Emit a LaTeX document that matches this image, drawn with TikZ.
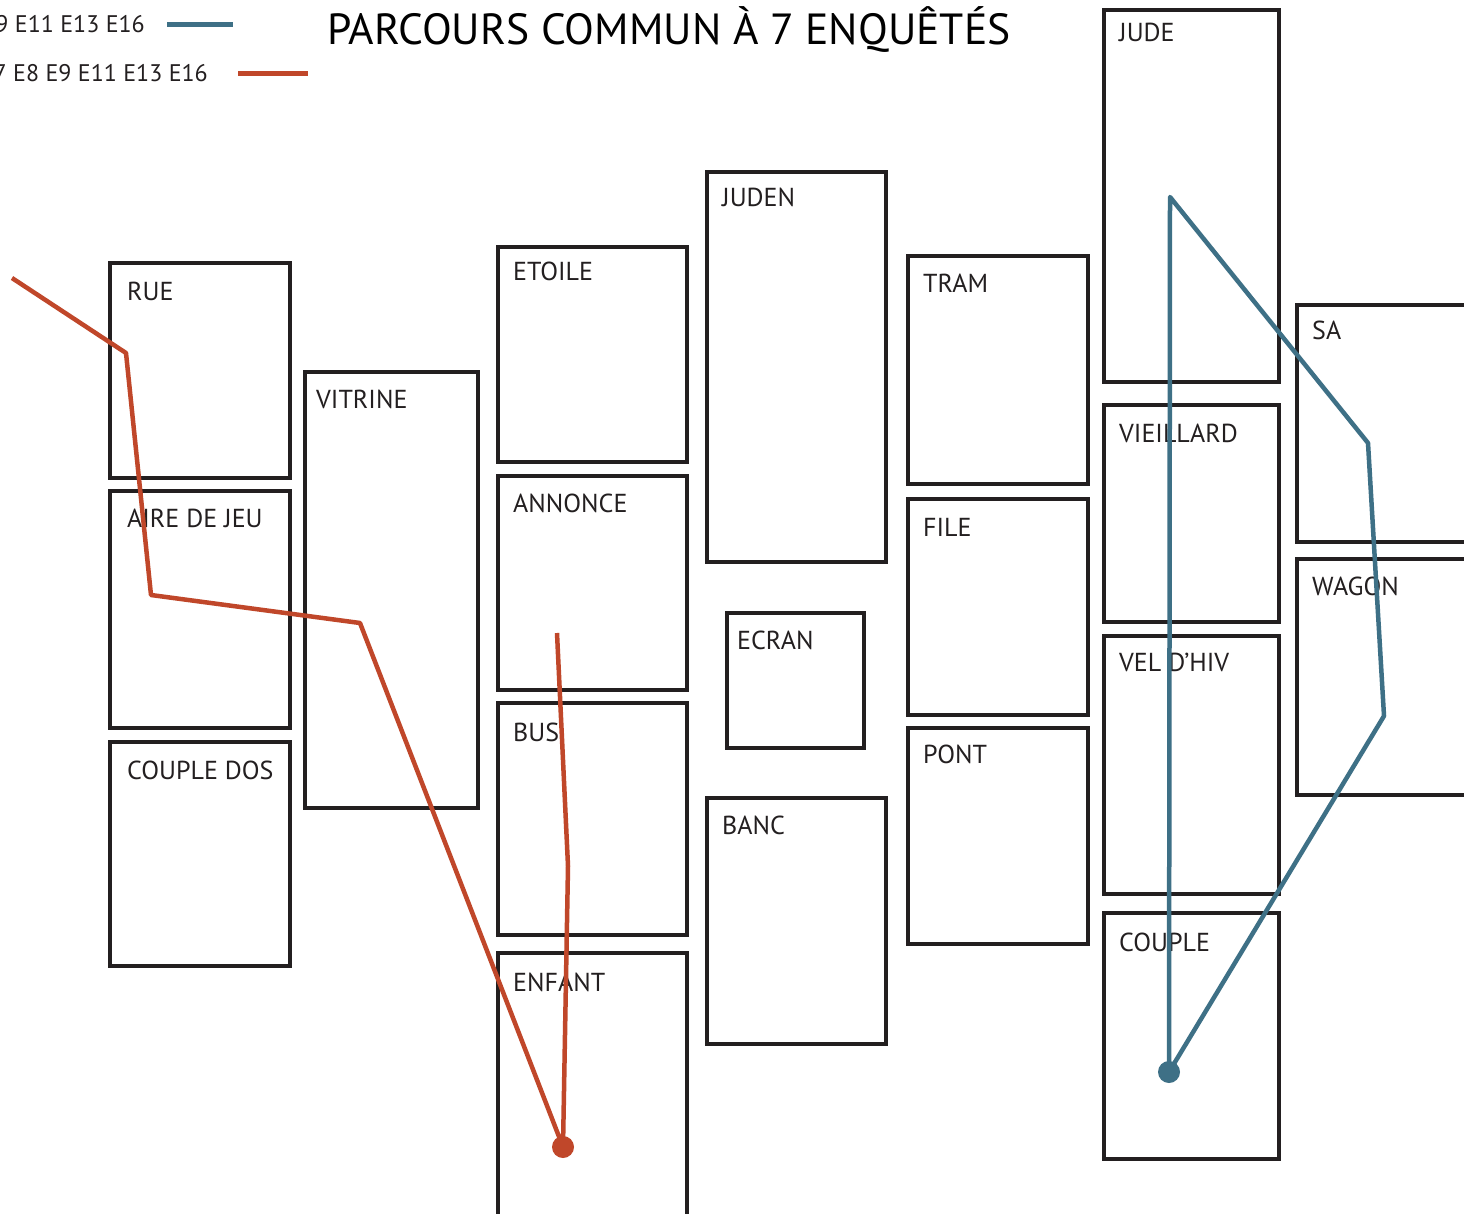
\documentclass[tikz,border=0pt]{standalone}
\usepackage{fontspec}
\setmainfont{PT Sans}
\usetikzlibrary{positioning}
\definecolor{boxline}{RGB}{35,31,32}
\definecolor{routered}{RGB}{192,71,42}
\definecolor{routeblue}{RGB}{62,112,134}

\begin{document}
\begin{tikzpicture}[
  x=1pt, y=-1pt,
  every node/.style={font=\fontsize{26}{30}\selectfont, text=boxline},
  zone/.style={draw=boxline, line width=4.5pt, inner sep=0pt, outer sep=0pt,
               minimum width=180pt, anchor=north west},
  lbl/.style={inner sep=0pt, anchor=north west},
  leg/.style={inner sep=0pt, font=\fontsize{24}{28}\selectfont},
  ttl/.style={inner sep=0pt, font=\fontsize{43.6}{48}\selectfont, text=black},
  route red/.style={draw=routered, line width=4.5pt, line join=round},
  route blue/.style={draw=routeblue, line width=4.5pt, line join=round},
  dot/.style={circle, inner sep=0pt, minimum size=22pt}
]
\useasboundingbox (0,0) rectangle (1464,1214);
\clip (0,0) rectangle (1464,1214);
\fill[white] (0,0) rectangle (1464,1214);

\node[zone, minimum height=215pt] (rue) at (110,263) {};
\node[zone, minimum height=237pt, below=13pt of rue] (aire) {};
\node[zone, minimum height=224pt, below=14pt of aire] (coupledos) {};

\node[zone, minimum width=173pt, minimum height=436pt] (vitrine) at (305,372) {};

\node[zone, minimum width=189pt, minimum height=215pt] (etoile) at (498,247) {};
\node[zone, minimum width=189pt, minimum height=214pt, below=14pt of etoile] (annonce) {};
\node[zone, minimum width=189pt, minimum height=232pt, below=13pt of annonce] (bus) {};
\node[zone, minimum width=189pt, minimum height=280pt, below=18pt of bus] (enfant) {};

\node[zone, minimum width=179pt, minimum height=390pt] (juden) at (707,172) {};
\node[zone, minimum width=137pt, minimum height=135pt] (ecran) at (727,613) {};
\node[zone, minimum width=179pt, minimum height=246pt] (banc) at (707,798) {};

\node[zone, minimum height=228pt] (tram) at (908,256) {};
\node[zone, minimum height=216pt, below=15pt of tram] (file) {};
\node[zone, minimum height=216pt, below=13pt of file] (pont) {};

\node[zone, minimum width=175pt, minimum height=372pt] (jude) at (1104,10) {};
\node[zone, minimum width=175pt, minimum height=217pt, below=23pt of jude] (vieillard) {};
\node[zone, minimum width=175pt, minimum height=258pt, below=14pt of vieillard] (velhiv) {};
\node[zone, minimum width=175pt, minimum height=246pt, below=19pt of velhiv] (couple) {};

\node[zone, minimum width=200pt, minimum height=237pt] (sa) at (1297,305) {};
\node[zone, minimum width=200pt, minimum height=236pt, below=17pt of sa] (wagon) {};

\node[lbl, below right=19pt and 17pt of rue.north west] (lrue) {RUE};
\node[lbl, below right=18pt and 17pt of aire.north west] (laire) {AIRE DE JEU};
\node[lbl, below right=19pt and 17pt of coupledos.north west] (lcoupledos) {COUPLE DOS};
\node[lbl, below right=18pt and 11pt of vitrine.north west] (lvitrine) {VITRINE};
\node[lbl, below right=15pt and 15pt of etoile.north west] (letoile) {ETOILE};
\node[lbl, below right=18pt and 15pt of annonce.north west] (lannonce) {ANNONCE};
\node[lbl, below right=20pt and 15pt of bus.north west] (lbus) {BUS};
\node[lbl, below right=20pt and 15pt of enfant.north west] (lenfant) {ENFANT};
\node[lbl, below right=16pt and 15pt of juden.north west] (ljuden) {JUDEN};
\node[lbl, below right=18pt and 10pt of ecran.north west] (lecran) {ECRAN};
\node[lbl, below right=18pt and 15pt of banc.north west] (lbanc) {BANC};
\node[lbl, below right=18pt and 15pt of tram.north west] (ltram) {TRAM};
\node[lbl, below right=19pt and 15pt of file.north west] (lfile) {FILE};
\node[lbl, below right=17pt and 15pt of pont.north west] (lpont) {PONT};
\node[lbl, below right=13pt and 15pt of jude.north west] (ljude) {JUDE};
\node[lbl, below right=19pt and 15pt of vieillard.north west] (lvieillard) {VIEILLARD};
\node[lbl, below right=17pt and 15pt of velhiv.north west] (lvelhiv) {VEL D’HIV};
\node[lbl, below right=20pt and 15pt of couple.north west] (lcouple) {COUPLE};
\node[lbl, below right=16pt and 15pt of sa.north west] (lsa) {SA};
\node[lbl, below right=18pt and 15pt of wagon.north west] (lwagon) {WAGON};

\node[ttl, anchor=base west] (title) at (327,45) {PARCOURS COMMUN À 7 ENQUÊTÉS};

\node[leg, anchor=base east] (legblue) at (145,33) {9 E11 E13 E16};
\node[leg, anchor=base east] (legred) at (208,82) {7 E8 E9 E11 E13 E16};
\draw[route blue] ([xshift=22pt]legblue.east) -- ([xshift=88pt]legblue.east);
\draw[route red] ([xshift=30pt]legred.east) -- ([xshift=100pt]legred.east);

\coordinate (r0) at (12,278);
\coordinate (r1) at (126,353);
\coordinate (r2) at (151,595);
\coordinate (r3) at (360,623);
\coordinate (rend) at (563,1147);
\coordinate (r4) at (568,866);
\coordinate (r5) at (557,633);
\draw[route red] (r0) -- (r1) -- (r2) -- (r3) -- (rend) -- (r4) -- (r5);
\node[dot, fill=routered] (rdot) at (rend) {};

\coordinate (b1) at (1170,197);
\coordinate (b2) at (1368,443);
\coordinate (b3) at (1384,716);
\coordinate (bend) at (1169,1072);
\draw[route blue] (b1) -- (b2) -- (b3) -- (bend) -- cycle;
\node[dot, fill=routeblue] (bdot) at (bend) {};
\end{tikzpicture}
\end{document}
